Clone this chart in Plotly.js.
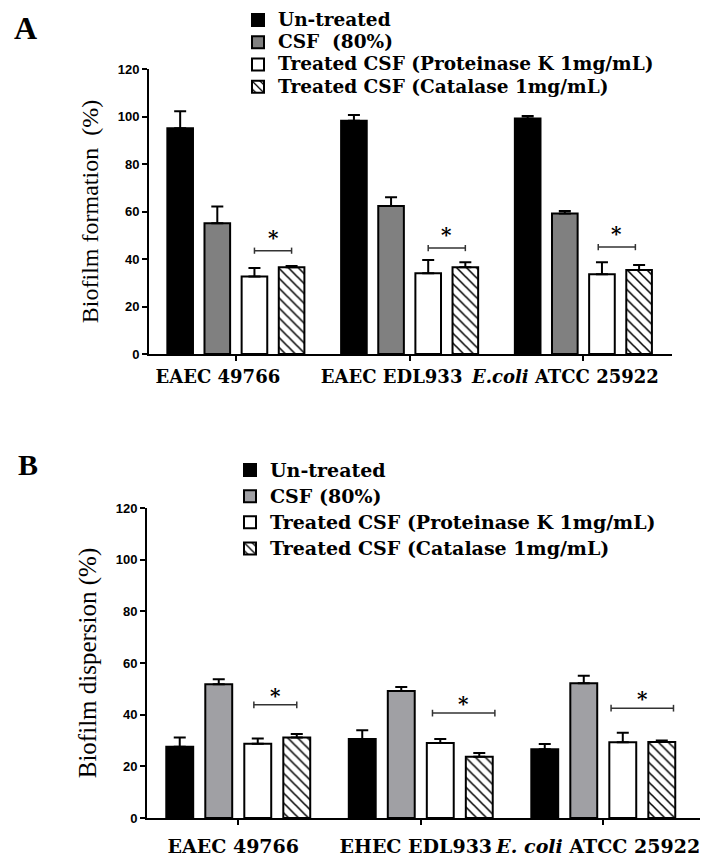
<!DOCTYPE html>
<html>
<head>
<meta charset="utf-8">
<script src="https://cdn.plot.ly/plotly-3.0.1.min.js"></script>
<style>html,body{margin:0;padding:0;background:#fff;}#chart{width:718px;height:862px;}</style>
</head>
<body>
<div id="chart"></div>
<script>
// ---------- DATA ----------
const categoriesA = ["EAEC 49766", "EAEC EDL933", "<i>E.coli</i> ATCC 25922"];
const categoriesB = ["EAEC 49766", "EHEC EDL933", "<i>E. coli</i> ATCC 25922"];

const seriesNamesA = ["Un-treated", "CSF\u00a0 (80%)", "Treated CSF (Proteinase K 1mg/mL)", "Treated CSF (Catalase 1mg/mL)"];
const seriesNamesB = ["Un-treated", "CSF (80%)", "Treated CSF (Proteinase K 1mg/mL)", "Treated CSF (Catalase 1mg/mL)"];

// Panel A: biofilm formation (%)
const untreatedA    = [95.0, 98.2, 99.2];
const untreatedErrA = [7.2, 2.4, 1.0];
const csfA          = [55.0, 62.3, 59.2];
const csfErrA       = [7.1, 3.7, 1.0];
const proteinaseA   = [32.6, 34.0, 33.6];
const proteinaseErrA= [3.6, 5.6, 5.0];
const catalaseA     = [36.5, 36.5, 35.4];
const catalaseErrA  = [0.5, 2.1, 2.1];

// Panel B: biofilm dispersion (%)
const untreatedB    = [27.6, 30.6, 26.6];
const untreatedErrB = [3.6, 3.4, 2.0];
const csfB          = [51.8, 49.2, 52.2];
const csfErrB       = [1.9, 1.5, 2.9];
const proteinaseB   = [28.7, 29.0, 29.3];
const proteinaseErrB= [2.1, 1.6, 3.7];
const catalaseB     = [31.2, 23.7, 29.4];
const catalaseErrB  = [1.3, 1.5, 0.6];

// significance brackets (y level in data units)
const sigYA = [43.5, 44.6, 45.0];
const sigYB = [43.8, 40.6, 42.5];
// bracket extents in bar-slot units within a group (0..4)
const sigFromA = [2.5, 2.5, 2.4];
const sigToA   = [3.5, 3.5, 3.4];
const sigFromB = [2.4, 2.3, 2.2];
const sigToB   = [3.5, 3.9, 3.8];

// ---------- STYLE ----------
const BARGAP = 0.145, BARGROUPGAP = 0.31;
const serif = "DejaVu Serif";
const fillsA = ["#000000", "#808080", "#ffffff", "#ffffff"];
const fillsB = ["#000000", "#a0a0a4", "#ffffff", "#ffffff"];

function mkTrace(name, cats, vals, errs, fill, hatched, xa, ya, legendName, grp) {
  const marker = {color: fill, line: {color: "#000", width: 2}};
  if (hatched) marker.pattern = {shape: "\\", fgcolor: "#000", bgcolor: "#fff", size: 7, solidity: 0.22};
  return {
    type: "bar", name: name, x: cats, y: vals, xaxis: xa, yaxis: ya,
    marker: marker, legend: legendName, legendgroup: grp,
    error_y: {type: "data", symmetric: false, array: errs, arrayminus: errs.map(() => 0),
              color: "#000", thickness: 2, width: 6}
  };
}
// legend text drawn larger than the legend's base font so the row spacing stays as tight as the reference
const bigA = s => '<span style="font-size:18.5px">' + s + '</span>';
const bigB = s => '<span style="font-size:19px">' + s + '</span>';

const data = [
  mkTrace(bigA(seriesNamesA[0]), categoriesA, untreatedA, untreatedErrA, fillsA[0], false, "x", "y", "legend", "a0"),
  mkTrace(bigA(seriesNamesA[1]), categoriesA, csfA, csfErrA, fillsA[1], false, "x", "y", "legend", "a1"),
  mkTrace(bigA(seriesNamesA[2]), categoriesA, proteinaseA, proteinaseErrA, fillsA[2], false, "x", "y", "legend", "a2"),
  mkTrace(bigA(seriesNamesA[3]), categoriesA, catalaseA, catalaseErrA, fillsA[3], true, "x", "y", "legend", "a3"),
  mkTrace(bigB(seriesNamesB[0]), categoriesB, untreatedB, untreatedErrB, fillsB[0], false, "x2", "y2", "legend2", "b0"),
  mkTrace(bigB(seriesNamesB[1]), categoriesB, csfB, csfErrB, fillsB[1], false, "x2", "y2", "legend2", "b1"),
  mkTrace(bigB(seriesNamesB[2]), categoriesB, proteinaseB, proteinaseErrB, fillsB[2], false, "x2", "y2", "legend2", "b2"),
  mkTrace(bigB(seriesNamesB[3]), categoriesB, catalaseB, catalaseErrB, fillsB[3], true, "x2", "y2", "legend2", "b3")
];

// brackets + asterisks
const shapes = [], annotations = [];
const groupW = 1 - BARGAP, slotW = groupW / 4;
function slotX(i, s) { return i - groupW / 2 + s * slotW; }
function addSig(xref, yref, ys, from, to, capH, yshift) {
  ys.forEach((y, i) => {
    const x0 = slotX(i, from[i]), x1 = slotX(i, to[i]);
    const ln = {color: "#333", width: 1.5};
    shapes.push({type: "line", xref: xref, yref: yref, x0: x0, x1: x1, y0: y, y1: y, line: ln});
    shapes.push({type: "line", xref: xref, yref: yref, x0: x0, x1: x0, y0: y - capH, y1: y + capH, line: ln});
    shapes.push({type: "line", xref: xref, yref: yref, x0: x1, x1: x1, y0: y - capH, y1: y + capH, line: ln});
    annotations.push({xref: xref, yref: yref, x: (x0 + x1) / 2, y: y, text: "*", showarrow: false,
      yanchor: "bottom", yshift: yshift, font: {family: serif, size: 20, color: "#000", weight: "bold"}});
  });
}
addSig("x", "y", sigYA, sigFromA, sigToA, 1.3, -1);
addSig("x2", "y2", sigYB, sigFromB, sigToB, 1.3, -5);

annotations.push({xref: "paper", yref: "paper", x: 25 / 718, y: 1 - 28 / 862, text: "A", showarrow: false,
  xanchor: "center", yanchor: "middle", font: {family: "Liberation Serif", size: 32, color: "#000", weight: "bold"}});
annotations.push({xref: "paper", yref: "paper", x: 28 / 718, y: 1 - 464 / 862, text: "B", showarrow: false,
  xanchor: "center", yanchor: "middle", font: {family: "Liberation Serif", size: 30, color: "#000", weight: "bold"}});

const tickFont = {family: "Liberation Sans", size: 13, color: "#000", weight: "bold"};
function yAxis(domain, titleText, titleSize, anchor) {
  return {domain: domain, anchor: anchor, range: [0, 120], dtick: 20, showgrid: false, zeroline: false,
    showline: true, linecolor: "#000", linewidth: 2, ticks: "outside", ticklen: 5, tickwidth: 2, tickcolor: "#000",
    tickfont: tickFont, fixedrange: true,
    title: {text: titleText, font: {family: "Liberation Serif", size: titleSize, color: "#000"}, standoff: 12}};
}
function xAxis(domain, range, anchor, fontSize, shift, standoff) {
  return {domain: domain, anchor: anchor, type: "category", range: range, showgrid: false, zeroline: false,
    showline: true, linecolor: "#000", linewidth: 2, ticks: "outside", ticklen: 5, tickwidth: 2, tickcolor: "#000",
    tickfont: {family: serif, size: fontSize, color: "#000", weight: "bold"}, ticklabelshift: shift,
    ticklabelstandoff: standoff, fixedrange: true};
}

const layout = {
  width: 718, height: 862, margin: {l: 0, r: 0, t: 0, b: 0},
  paper_bgcolor: "#fff", plot_bgcolor: "#fff",
  barmode: "group", bargap: BARGAP, bargroupgap: BARGROUPGAP,
  xaxis: xAxis([149 / 718, 672 / 718], [-0.5, 2.51], "y", 18, -18, 0),
  yaxis: yAxis([1 - 354 / 862, 1 - 69 / 862], "Biofilm formation\u00a0 (%)", 24, "x"),
  xaxis2: xAxis([147 / 718, 700 / 718], [-0.5, 2.53], "y2", 19, -5, 5),
  yaxis2: yAxis([1 - 818 / 862, 1 - 508 / 862], "Biofilm dispersion (%)", 25, "x2"),
  legend: {x: 238 / 718, y: 1 - 4 / 862, xanchor: "left", yanchor: "top", bgcolor: "rgba(0,0,0,0)",
    font: {family: serif, size: 14.8, color: "#000", weight: "bold"}, traceorder: "normal", tracegroupgap: 0},
  legend2: {x: 230 / 718, y: 1 - 452 / 862, xanchor: "left", yanchor: "top", bgcolor: "rgba(0,0,0,0)",
    font: {family: serif, size: 17.8, color: "#000", weight: "bold"}, traceorder: "normal", tracegroupgap: 0},
  shapes: shapes, annotations: annotations, showlegend: true
};

Plotly.newPlot("chart", data, layout, {displayModeBar: false, staticPlot: true});
</script>
</body>
</html>
